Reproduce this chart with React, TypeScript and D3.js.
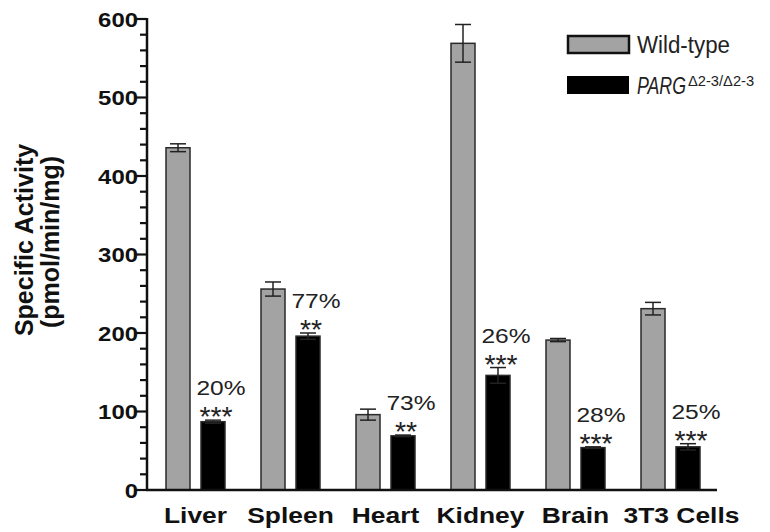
import React from "react";
import * as d3 from "d3";

const categories = ["Liver", "Spleen", "Heart", "Kidney", "Brain", "3T3 Cells"];
const seriesNames = ["Wild-type", "PARG"];
const wildType = [436, 256, 96, 569, 191, 231];
const wildTypeErr = [5, 9, 7, 24, 2, 8];
const mutant = [87, 196, 69, 146, 54, 55];
const mutantErr = [2, 4, 1, 10, 1, 4];
const percentLabels = ["20%", "77%", "73%", "26%", "28%", "25%"];
const starLabels = ["***", "**", "**", "***", "***", "***"];
const yTicks = [0, 100, 200, 300, 400, 500, 600];

const W = 770;
const H = 532;
const FONT = "'Liberation Sans', Arial, Helvetica, sans-serif";
const GRAY = "#a3a3a3";

function SText({ x, y, sx = 1, children, ...rest }: any) {
  return (
    <text transform={`translate(${x},${y}) scale(${sx},1)`} fontFamily={FONT} {...rest}>
      {children}
    </text>
  );
}

export default function App() {
  const x0 = d3.scaleBand<string>().domain(categories).range([148, 718]).paddingInner(0).paddingOuter(0);
  const x1 = d3.scaleBand<string>().domain(seriesNames).range([18, 77]).paddingInner(0.314).paddingOuter(0);
  const y = d3.scaleLinear().domain([0, 600]).range([490, 19]);
  const minor = d3.range(0, 601, 20);
  const bw = x1.bandwidth();
  const capHalf = 8;

  const series = [
    { name: "Wild-type", values: wildType, errs: wildTypeErr, fill: GRAY },
    { name: "PARG", values: mutant, errs: mutantErr, fill: "#000" },
  ];

  return (
    <svg width={W} height={H} style={{ position: "absolute", left: 0, top: 0, background: "#fff" }}>
      <rect x={0} y={0} width={W} height={H} fill="#fff" />
      {/* bars */}
      {categories.map((c, i) => (
        <g key={c}>
          {series.map((s) => {
            const bx = (x0(c) as number) + (x1(s.name) as number);
            const v = s.values[i];
            const e = s.errs[i];
            const cx = bx + bw / 2;
            return (
              <g key={s.name}>
                <rect x={bx} y={y(v)} width={bw} height={y(0) - y(v)} fill={s.fill} stroke="#2a2a2a" strokeWidth={1.5} />
                <line x1={cx} x2={cx} y1={y(v + e)} y2={y(v - e)} stroke="#222" strokeWidth={1.5} />
                <line x1={cx - capHalf} x2={cx + capHalf} y1={y(v + e)} y2={y(v + e)} stroke="#222" strokeWidth={1.5} />
                <line x1={cx - capHalf} x2={cx + capHalf} y1={y(v - e)} y2={y(v - e)} stroke="#222" strokeWidth={1.5} />
              </g>
            );
          })}
          {(() => {
            const bx = (x0(c) as number) + (x1("PARG") as number);
            const cx = bx + bw / 2;
            const top = y(mutant[i] + mutantErr[i]);
            return (
              <g>
                <SText x={cx + 8} y={top - 25} sx={1.17} fontSize={21} textAnchor="middle" fill="#222">
                  {percentLabels[i]}
                </SText>
                <SText x={cx + 3} y={top + 6} sx={1.05} fontSize={27} textAnchor="middle" fill="#222">
                  {starLabels[i]}
                </SText>
              </g>
            );
          })()}
        </g>
      ))}

      {/* y axis */}
      <line x1={147} x2={147} y1={y(600) - 1} y2={y(0) + 1} stroke="#111" strokeWidth={2.5} />
      {minor.map((t) => (
        <line key={t} x1={t % 100 === 0 ? 135 : 140} x2={147} y1={y(t)} y2={y(t)} stroke="#111" strokeWidth={2.2} />
      ))}
      {yTicks.map((t) => (
        <SText key={t} x={138} y={y(t) + 7.5} sx={1.14} fontSize={21} fontWeight="bold" textAnchor="end" fill="#111">
          {t}
        </SText>
      ))}
      {/* x axis */}
      <line x1={146} x2={717} y1={y(0)} y2={y(0)} stroke="#111" strokeWidth={2.5} />
      {categories.map((c, i) => (
        <SText key={c} x={(x0(c) as number) + x0.bandwidth() / 2 + (i === categories.length - 1 ? 11 : 0)} y={523} sx={1.2} fontSize={22} fontWeight="bold" textAnchor="middle" fill="#111">
          {c}
        </SText>
      ))}

      {/* y title */}
      <text transform="translate(33,240) rotate(-90)" fontFamily={FONT} fontSize={25} fontWeight="bold" textAnchor="middle" fill="#111">
        Specific Activity
      </text>
      <text transform="translate(59,242) rotate(-90)" fontFamily={FONT} fontSize={25} fontWeight="bold" textAnchor="middle" fill="#111">
        (pmol/min/mg)
      </text>

      {/* legend */}
      <rect x={568} y={36} width={61} height={17} fill={GRAY} stroke="#111" strokeWidth={2.5} />
      <rect x={567} y={76} width={62} height={18} fill="#000" />
      <SText x={637} y={53} sx={0.93} fontSize={24} fill="#222">Wild-type</SText>
      <SText x={637} y={94} sx={0.74} fontSize={24} fontStyle="italic" fill="#222">PARG</SText>
      <SText x={688} y={86} sx={1.05} fontSize={14} fill="#222">Δ2-3/Δ2-3</SText>
    </svg>
  );
}
